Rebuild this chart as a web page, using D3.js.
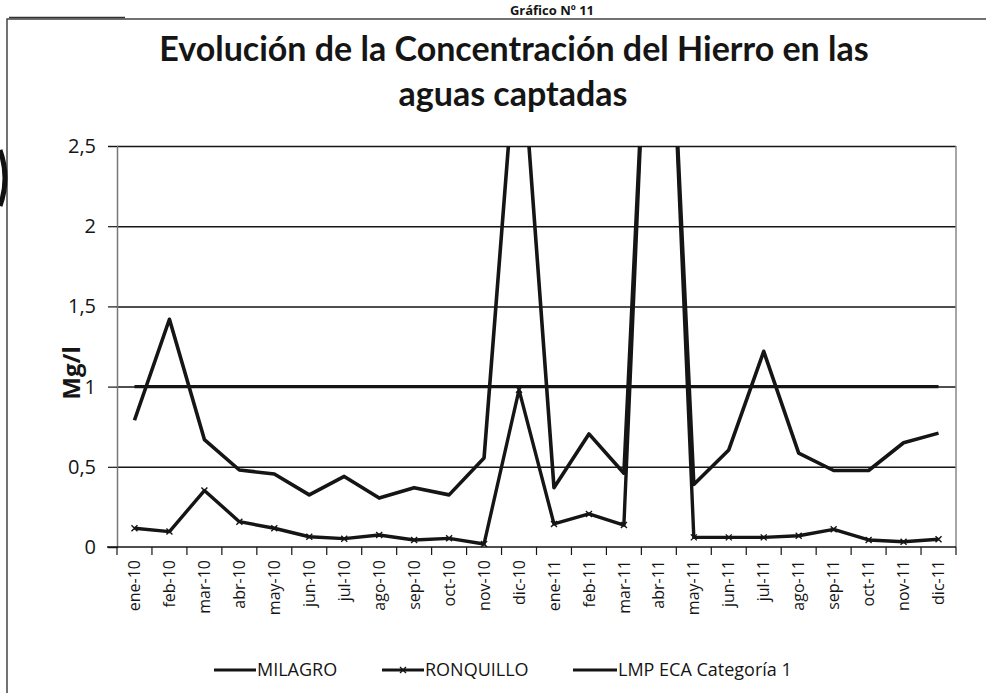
<!DOCTYPE html>
<html>
<head>
<meta charset="utf-8">
<script src="https://cdn.jsdelivr.net/npm/d3@7"></script>
<style>
  html, body { margin: 0; padding: 0; background: #fff; }
  svg { display: block; }
</style>
</head>
<body>
<svg id="chart" width="986" height="693"></svg>
<script>
// ---------------- data ----------------
const categories = ["ene-10","feb-10","mar-10","abr-10","may-10","jun-10","jul-10","ago-10","sep-10","oct-10","nov-10","dic-10",
                    "ene-11","feb-11","mar-11","abr-11","may-11","jun-11","jul-11","ago-11","sep-11","oct-11","nov-11","dic-11"];
const milagro   = [0.79, 1.42, 0.67, 0.48, 0.455, 0.325, 0.44, 0.305, 0.37, 0.325, 0.555, 3.35,
                   0.37, 0.705, 0.46, 5.0, 0.39, 0.605, 1.22, 0.585, 0.477, 0.477, 0.65, 0.71];
const ronquillo = [0.117, 0.096, 0.352, 0.158, 0.117, 0.064, 0.052, 0.075, 0.044, 0.054, 0.019, 0.98,
                   0.144, 0.206, 0.137, 5.2, 0.06, 0.06, 0.06, 0.07, 0.11, 0.044, 0.033, 0.048];
const lmpEca    = [1, 1, 1, 1, 1, 1, 1, 1, 1, 1, 1, 1,
                   1, 1, 1, 1, 1, 1, 1, 1, 1, 1, 1, 1];
const yTickValues = [0, 0.5, 1, 1.5, 2, 2.5];
const yTickLabels = ["0", "0,5", "1", "1,5", "2", "2,5"];
const seriesNames = ["MILAGRO", "RONQUILLO", "LMP ECA Categoría 1"];
const chartTitle = ["Evolución de la Concentración del Hierro en las", "aguas captadas"];
const yAxisTitle = "Mg/l";
const headerText = "Gráfico Nº 11";

// ---------------- layout ----------------
const svg = d3.select("#chart");
const plot = { left: 117, right: 956, top: 146, bottom: 547 };
const ink = "#151515";

const x = d3.scaleBand().domain(categories).range([plot.left, plot.right]);
const y = d3.scaleLinear().domain([0, 2.5]).range([plot.bottom, plot.top]);

// header
svg.append("text").attr("x", 552).attr("y", 15)
  .attr("text-anchor", "middle")
  .style("font-family", "'Open Sans', sans-serif").style("font-weight", "700").style("font-size", "13px")
  .attr("fill", ink).text(headerText);

// outer chart frame
svg.append("rect").attr("x", 7).attr("y", 19).attr("width", 1000).attr("height", 700)
  .attr("fill", "none").attr("stroke", "#444").attr("stroke-width", 1.5);
svg.append("line").attr("x1", 9).attr("x2", 125).attr("y1", 17.5).attr("y2", 17.5)
  .attr("stroke", "#333").attr("stroke-width", 1.5);
// scan artifact at the left edge
svg.append("path").attr("d", "M0,150 Q10,178 0,206").attr("fill", "none")
  .attr("stroke", "#111").attr("stroke-width", 5);

// title
const title = svg.append("text").attr("text-anchor", "middle")
  .style("font-family", "Lato, 'Open Sans', sans-serif").style("font-weight", "700").style("font-size", "34px")
  .attr("fill", ink);
title.append("tspan").attr("x", 514).attr("y", 61).text(chartTitle[0]);
title.append("tspan").attr("x", 513).attr("y", 106).text(chartTitle[1]);

// gridlines
const grid = svg.append("g").attr("transform", `translate(${plot.left},0)`)
  .call(d3.axisLeft(y).tickValues(yTickValues.filter(v => v > 0)).tickSize(-(plot.right - plot.left)).tickFormat(""));
grid.select(".domain").remove();
grid.selectAll(".tick line").attr("stroke", ink).attr("stroke-width", 1.5);

// plot area right border
svg.append("line").attr("x1", plot.right).attr("x2", plot.right).attr("y1", plot.top).attr("y2", plot.bottom)
  .attr("stroke", "#888").attr("stroke-width", 1.5);

// y axis
const yAxis = svg.append("g").attr("transform", `translate(${plot.left},0)`)
  .call(d3.axisLeft(y).tickValues(yTickValues).tickSize(9).tickPadding(12)
        .tickFormat((d, i) => yTickLabels[i]));
yAxis.select(".domain").attr("stroke", "#777").attr("stroke-width", 1.5);
yAxis.selectAll(".tick line").attr("stroke", ink).attr("stroke-width", 1.2);
yAxis.selectAll(".tick text").attr("fill", ink)
  .style("font-family", "'Open Sans', sans-serif").style("font-size", "20px");

// y axis title
svg.append("text").attr("transform", `translate(80,373) rotate(-90)`)
  .attr("text-anchor", "middle")
  .style("font-family", "'Open Sans', sans-serif").style("font-weight", "700").style("font-size", "24px")
  .attr("fill", ink).text(yAxisTitle);

// x axis
const xAxis = svg.append("g").attr("transform", `translate(0,${plot.bottom})`)
  .call(d3.axisBottom(x).tickSize(0).tickPadding(0));
xAxis.select(".domain").remove();
xAxis.selectAll(".tick text")
  .attr("transform", "rotate(-90)")
  .attr("x", -13).attr("y", 0).attr("dy", "0.35em")
  .attr("text-anchor", "end")
  .attr("fill", ink)
  .style("font-family", "'Open Sans', sans-serif").style("font-size", "16px");
svg.append("line").attr("x1", plot.left - 10).attr("x2", plot.right)
  .attr("y1", plot.bottom).attr("y2", plot.bottom)
  .attr("stroke", ink).attr("stroke-width", 1.5);
const boundaries = categories.map(c => x(c)).concat([x(categories[categories.length - 1]) + x.bandwidth()]);
svg.append("g").selectAll("line").data(boundaries).join("line")
  .attr("x1", d => d).attr("x2", d => d)
  .attr("y1", plot.bottom).attr("y2", plot.bottom + 8)
  .attr("stroke", ink).attr("stroke-width", 1.2);

// clip for series
svg.append("clipPath").attr("id", "plotclip").append("rect")
  .attr("x", plot.left).attr("y", plot.top).attr("width", plot.right - plot.left).attr("height", plot.bottom - plot.top + 4);

const cx = c => x(c) + x.bandwidth() / 2;
const lineGen = d3.line().x(d => cx(d.c)).y(d => y(d.v));
const seriesGroup = svg.append("g").attr("clip-path", "url(#plotclip)");

const toPts = arr => categories.map((c, i) => ({ c, v: arr[i] }));

seriesGroup.append("path").datum(toPts(lmpEca)).attr("d", lineGen)
  .attr("fill", "none").attr("stroke", ink).attr("stroke-width", 3.2);
seriesGroup.append("path").datum(toPts(ronquillo)).attr("d", lineGen)
  .attr("fill", "none").attr("stroke", ink).attr("stroke-width", 3.4).attr("stroke-linejoin", "round");
seriesGroup.append("g").selectAll("path").data(toPts(ronquillo)).join("path")
  .attr("d", d => { const px = cx(d.c), py = y(d.v); return `M${px-3},${py-3}L${px+3},${py+3}M${px-3},${py+3}L${px+3},${py-3}`; })
  .attr("stroke", ink).attr("stroke-width", 1.4);
seriesGroup.append("path").datum(toPts(milagro)).attr("d", lineGen)
  .attr("fill", "none").attr("stroke", ink).attr("stroke-width", 3.6).attr("stroke-linejoin", "round");

// legend
const legendItems = [
  { name: seriesNames[0], x1: 214, x2: 256, marker: false },
  { name: seriesNames[1], x1: 382, x2: 424, marker: true },
  { name: seriesNames[2], x1: 573, x2: 617, marker: false }
];
const lg = svg.append("g");
const ly = 670;
legendItems.forEach(it => {
  lg.append("line").attr("x1", it.x1).attr("x2", it.x2).attr("y1", ly).attr("y2", ly)
    .attr("stroke", ink).attr("stroke-width", 3.2);
  if (it.marker) {
    const m = (it.x1 + it.x2) / 2;
    lg.append("path").attr("d", `M${m-3},${ly-3}L${m+3},${ly+3}M${m-3},${ly+3}L${m+3},${ly-3}`)
      .attr("stroke", ink).attr("stroke-width", 1.4);
  }
  lg.append("text").attr("x", it.x2 + 1).attr("y", ly).attr("dy", "0.35em")
    .style("font-family", "'Open Sans', sans-serif").style("font-size", "18px")
    .attr("fill", ink).text(it.name);
});
</script>
</body>
</html>
